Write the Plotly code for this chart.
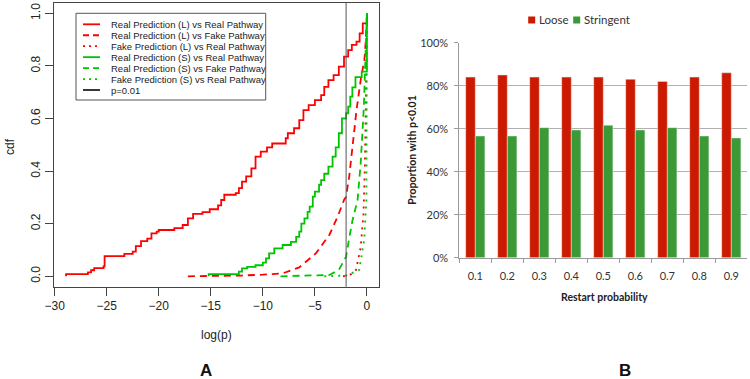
import numpy as np
import plotly.graph_objects as go

# ---------------- Panel A data (log10 p, cdf) ----------------
rl_real_x = [-28.9, -28.9, -26.8, -26.5, -26.2, -25.3, -25.2, -23.3, -22.5, -22.2, -21.7, -21.1, -20.7,
             -20.2, -20.0, -18.5, -17.7, -17.2, -16.7, -15.8, -15.1, -14.3, -14.0, -13.7, -12.6, -12.3,
             -12.0, -11.6, -11.1, -10.7, -10.2, -9.6, -9.1, -7.8, -7.6, -7.0, -6.5, -6.1, -5.6, -5.0,
             -4.4, -4.1, -3.7, -3.2, -2.7, -2.2, -1.8, -1.45, -1.0, -0.7, -0.4, 0.0]
rl_real_y = [0.0, 0.008, 0.015, 0.023, 0.031, 0.038, 0.077, 0.085, 0.094, 0.115, 0.134, 0.143, 0.163,
             0.170, 0.176, 0.183, 0.195, 0.220, 0.237, 0.244, 0.255, 0.270, 0.290, 0.310, 0.316, 0.335,
             0.360, 0.380, 0.410, 0.455, 0.474, 0.490, 0.505, 0.525, 0.544, 0.563, 0.594, 0.632, 0.651,
             0.670, 0.689, 0.720, 0.746, 0.765, 0.797, 0.835, 0.860, 0.880, 0.892, 0.924, 0.962, 1.0]

rl_fake_x = [-17.2, -14.0, -12.0, -10.0, -8.1, -6.5, -4.9, -3.6, -2.8, -2.2, -2.0, -1.7, -1.45, -1.0,
             -0.55, -0.25, -0.1, 0.0]
rl_fake_y = [0.0, 0.001, 0.003, 0.006, 0.011, 0.034, 0.087, 0.158, 0.228, 0.290, 0.303, 0.380, 0.480,
             0.632, 0.760, 0.820, 0.900, 1.0]

fl_real_x = [-2.3, -1.5, -1.05, -0.6, -0.33, -0.2, -0.1, 0.0]
fl_real_y = [0.0, 0.008, 0.024, 0.110, 0.240, 0.420, 0.670, 1.0]

rs_real_x = [-15.2, -15.2, -12.3, -12.0, -11.5, -10.7, -10.0, -9.7, -9.4, -8.9, -8.1, -7.3, -6.8, -6.5,
             -6.3, -6.0, -5.7, -5.5, -5.2, -5.0, -4.6, -4.4, -4.1, -3.7, -3.3, -3.0, -2.7, -2.4, -2.0,
             -1.8, -1.6, -1.4, -1.1, -0.5, 0.0]
rs_real_y = [0.0, 0.008, 0.018, 0.030, 0.036, 0.042, 0.052, 0.068, 0.087, 0.106, 0.119, 0.131, 0.150,
             0.170, 0.200, 0.220, 0.245, 0.265, 0.303, 0.322, 0.348, 0.366, 0.390, 0.417, 0.455, 0.490,
             0.544, 0.600, 0.620, 0.645, 0.683, 0.718, 0.757, 0.778, 1.0]

rs_fake_x = [-8.3, -5.0, -3.6, -2.7, -2.0, -1.7, -1.4, -0.9, -0.75, -0.6, -0.3, -0.05, 0.0]
rs_fake_y = [0.0, 0.002, 0.005, 0.024, 0.075, 0.145, 0.210, 0.290, 0.366, 0.430, 0.640, 0.920, 1.0]

fs_real_x = [-4.1, -2.0, -0.74, -0.26, -0.05, 0.0]
fs_real_y = [0.0, 0.003, 0.024, 0.140, 0.290, 1.0]

p_cut = 0.01

legend_a_labels = ["Real Prediction (L) vs Real Pathway", "Real Prediction (L) vs Fake Pathway",
                   "Fake Prediction (L) vs Real Pathway", "Real Prediction (S) vs Real Pathway",
                   "Real Prediction (S) vs Fake Pathway", "Fake Prediction (S) vs Real Pathway",
                   "p=0.01"]

# ---------------- Panel B data ----------------
restart_prob = ["0.1", "0.2", "0.3", "0.4", "0.5", "0.6", "0.7", "0.8", "0.9"]
loose = [0.84, 0.85, 0.84, 0.84, 0.84, 0.83, 0.82, 0.84, 0.86]
stringent = [0.566, 0.566, 0.605, 0.594, 0.616, 0.594, 0.605, 0.566, 0.557]

RED = "#FF0000"
GREEN = "#00C400"
BAR_RED = "#CC1A00"
BAR_GREEN = "#3A9A35"
R_FONT = "Liberation Sans, Arial, sans-serif"
X_FONT = "Lato, Carlito, sans-serif"

W, H = 750, 379
def px(x):
    return x / W
def py(y):
    return 1 - y / H

fig = go.Figure()

styles_a = [
    (rl_real_x, rl_real_y, RED, "solid", "hv"),
    (rl_fake_x, rl_fake_y, RED, "7px,5px", "linear"),
    (fl_real_x, fl_real_y, RED, "2px,5px", "linear"),
    (rs_real_x, rs_real_y, GREEN, "solid", "hv"),
    (rs_fake_x, rs_fake_y, GREEN, "7px,5px", "linear"),
    (fs_real_x, fs_real_y, GREEN, "2px,5px", "linear"),
]
order = [1, 2, 4, 5, 0, 3]
for i in order:
    xs, ys, col, dash, shape = styles_a[i]
    fig.add_trace(go.Scatter(x=xs, y=ys, mode="lines", name=legend_a_labels[i],
                             line=dict(color=col, width=1.8, dash=dash, shape=shape),
                             xaxis="x", yaxis="y", showlegend=False))

fig.add_trace(go.Bar(x=restart_prob, y=loose, name="Loose", marker_color=BAR_RED,
                     xaxis="x2", yaxis="y2", showlegend=False))
fig.add_trace(go.Bar(x=restart_prob, y=stringent, name="Stringent", marker_color=BAR_GREEN,
                     xaxis="x2", yaxis="y2", showlegend=False))

shapes = []
annotations = []

shapes.append(dict(type="line", xref="x", yref="y domain", x0=np.log10(p_cut), x1=np.log10(p_cut),
                   y0=0, y1=1, line=dict(color="#555555", width=1)))

shapes.append(dict(type="rect", xref="paper", yref="paper", x0=px(76), x1=px(265.7),
                   y0=py(100), y1=py(13.3), line=dict(color="#555555", width=1),
                   fillcolor="rgba(255,255,255,1)", layer="above"))
leg_styles = [(RED, "solid"), (RED, "6px,4px"), (RED, "2px,4px"), (GREEN, "solid"),
              (GREEN, "6px,4px"), (GREEN, "2px,4px"), ("#222222", "solid")]
for k, (lab, (col, dash)) in enumerate(zip(legend_a_labels, leg_styles)):
    yy = 24.3 + k * 10.95
    shapes.append(dict(type="line", xref="paper", yref="paper", x0=px(83), x1=px(100),
                       y0=py(yy), y1=py(yy), line=dict(color=col, width=1.8, dash=dash), layer="above"))
    annotations.append(dict(text=lab, xref="paper", yref="paper", x=px(108.5), y=py(yy),
                            xanchor="left", yanchor="middle", showarrow=False,
                            font=dict(family=R_FONT, size=9.5, color="#222222")))

annotations.append(dict(text="log(p)", xref="paper", yref="paper", x=px(216.5), y=py(335),
                        xanchor="center", yanchor="middle", showarrow=False,
                        font=dict(family=R_FONT, size=12, color="#222222")))
annotations.append(dict(text="cdf", xref="paper", yref="paper", x=px(10), y=py(147),
                        xanchor="center", yanchor="middle", showarrow=False, textangle=-90,
                        font=dict(family=R_FONT, size=12, color="#222222")))
annotations.append(dict(text="<b>A</b>", xref="paper", yref="paper", x=px(206), y=py(370),
                        xanchor="center", yanchor="middle", showarrow=False,
                        font=dict(family=R_FONT, size=17, color="#111111")))

for cx, col, lab in [(531.7, BAR_RED, "Loose"), (576.7, BAR_GREEN, "Stringent")]:
    shapes.append(dict(type="rect", xref="paper", yref="paper", x0=px(cx - 3.5), x1=px(cx + 3.5),
                       y0=py(23.5), y1=py(16.5), line=dict(width=0), fillcolor=col))
    annotations.append(dict(text=lab, xref="paper", yref="paper", x=px(cx + 5), y=py(20),
                            xanchor="left", yanchor="middle", showarrow=False,
                            font=dict(family=X_FONT, size=11.5, color="#333333")))

annotations.append(dict(text="<b>Proportion with p<0.01</b>", xref="paper", yref="paper",
                        x=px(411.7), y=py(150), xanchor="center", yanchor="middle",
                        showarrow=False, textangle=-90,
                        font=dict(family=X_FONT, size=10.5, color="#222222")))
annotations.append(dict(text="<b>Restart probability</b>", xref="paper", yref="paper",
                        x=px(604), y=py(297.3), xanchor="center", yanchor="middle",
                        showarrow=False, font=dict(family=X_FONT, size=10.5, color="#222222")))
annotations.append(dict(text="<b>B</b>", xref="paper", yref="paper", x=px(625), y=py(370),
                        xanchor="center", yanchor="middle", showarrow=False,
                        font=dict(family=R_FONT, size=17, color="#111111")))

fig.update_layout(
    width=W, height=H,
    margin=dict(l=0, r=0, t=0, b=0, pad=0, autoexpand=False),
    paper_bgcolor="white", plot_bgcolor="white",
    barmode="group", bargap=0.4, bargroupgap=0.0,
    showlegend=False,
    shapes=shapes, annotations=annotations,
    xaxis=dict(domain=[px(54), px(379)], range=[-30.06, 1.16], tickvals=[-30, -25, -20, -15, -10, -5, 0],
               ticks="outside", ticklen=8, tickcolor="#444444", showline=True, mirror=True,
               linecolor="#444444", linewidth=1, showgrid=False, zeroline=False, anchor="y",
               automargin=False, tickfont=dict(family=R_FONT, size=12, color="#222222")),
    yaxis=dict(domain=[py(286.8), py(2.8)], range=[-0.04, 1.04], tickvals=[0, 0.2, 0.4, 0.6, 0.8, 1.0],
               tickformat=".1f", tickangle=-90, ticks="outside", ticklen=8, tickcolor="#444444",
               showline=True, mirror=True, linecolor="#444444", linewidth=1, showgrid=False,
               zeroline=False, anchor="x", automargin=False,
               tickfont=dict(family=R_FONT, size=12, color="#222222")),
    xaxis2=dict(domain=[px(459.3), px(747.3)], type="category", anchor="y2", showline=True,
                linecolor="#9A9A9A", linewidth=1, ticks="outside", tickson="boundaries", ticklen=4,
                tickcolor="#9A9A9A", showgrid=False, zeroline=False, ticklabelstandoff=8,
                automargin=False, tickfont=dict(family=X_FONT, size=11, color="#333333")),
    yaxis2=dict(domain=[py(257.7), py(42.7)], range=[0, 1.0], tickvals=[0, 0.2, 0.4, 0.6, 0.8, 1.0],
                tickformat=".0%", anchor="x2", showline=True, linecolor="#9A9A9A", linewidth=1,
                ticks="outside", ticklen=4, tickcolor="#9A9A9A", showgrid=True, gridcolor="#B0B0B0",
                gridwidth=1, zeroline=False, ticklabelstandoff=4, automargin=False,
                tickfont=dict(family=X_FONT, size=11, color="#333333")),
)

# remove the browser's default 8px body margin so the 750x379 figure fills the window
fig.write_html("out.html", config={"displayModeBar": False},
               post_script="document.body.style.margin='0px';")
